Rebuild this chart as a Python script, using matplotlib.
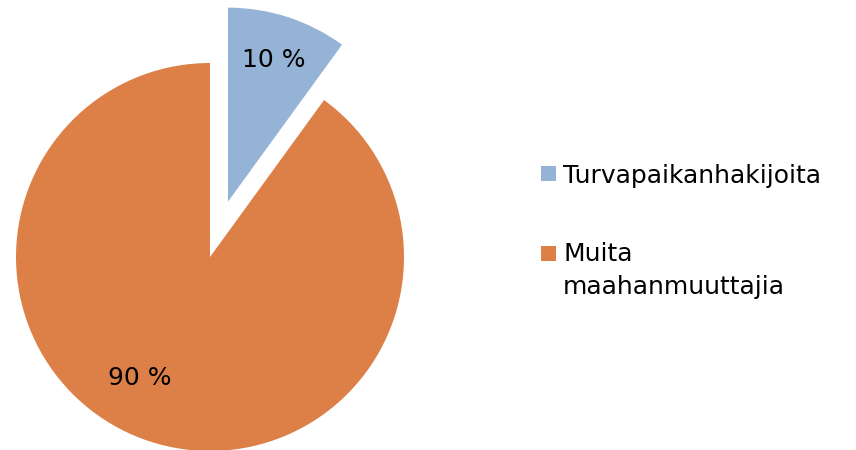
import matplotlib
matplotlib.use("Agg")
import matplotlib.pyplot as plt
from matplotlib.patches import Rectangle

categories = ["Turvapaikanhakijoita", "Muita\nmaahanmuuttajia"]
values = [10, 90]
colors = ["#95B3D7", "#DD8047"]
explode = [0.30, 0.0]

W, H = 856, 450
fig = plt.figure(figsize=(W / 100, H / 100), dpi=100)
cx, cy, r = 210, 257, 194
ax = fig.add_axes([(cx - r) / W, (H - cy - r) / H, 2 * r / W, 2 * r / H])
wedges, texts, autotexts = ax.pie(
    values, colors=colors, explode=explode, startangle=90, counterclock=False,
    autopct=lambda p: f"{p:.0f} %", pctdistance=0.77,
    textprops=dict(fontsize=18, color="black", family="DejaVu Sans"),
    wedgeprops=dict(linewidth=0),
)
autotexts[1].set_position((-0.36, -0.625))
ax.set_xlim(-1, 1)
ax.set_ylim(-1, 1)
ax.set_aspect("equal")
ax.axis("off")
for w in wedges:
    w.set_clip_on(False)

# legend drawn in figure pixel positions
def fx(x):
    return x / W

def fy(y):
    return 1 - y / H

marker_tops = [166, 246]
baselines = [183, 261]
line_step = 33
for c, lab, mt, bl in zip(colors, categories, marker_tops, baselines):
    fig.patches.append(Rectangle((fx(541), fy(mt + 15)), 15 / W, 15 / H,
                                 transform=fig.transFigure, facecolor=c,
                                 edgecolor="none"))
    for i, line in enumerate(lab.split("\n")):
        fig.text(fx(563), fy(bl + i * line_step), line, ha="left",
                 va="baseline", fontsize=18, family="DejaVu Sans",
                 color="black")

fig.savefig("out.png", dpi=100)
